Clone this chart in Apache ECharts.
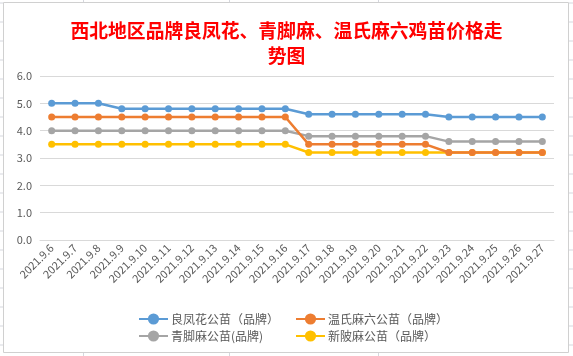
<!DOCTYPE html>
<html>
<head>
<meta charset="utf-8">
<script src="https://cdn.jsdelivr.net/npm/echarts@6/dist/echarts.min.js"></script>
<style>
html,body{margin:0;padding:0;background:#fff;}
#c{width:573px;height:356px;}
</style>
</head>
<body>
<div id="c"></div>
<script>
const categories = ['2021.9.6','2021.9.7','2021.9.8','2021.9.9','2021.9.10','2021.9.11','2021.9.12','2021.9.13','2021.9.14','2021.9.15','2021.9.16','2021.9.17','2021.9.18','2021.9.19','2021.9.20','2021.9.21','2021.9.22','2021.9.23','2021.9.24','2021.9.25','2021.9.26','2021.9.27'];
const seriesNames = ['良凤花公苗（品牌）','温氏麻六公苗（品牌）','青脚麻公苗(品牌)','新陂麻公苗（品牌）'];
const liangfenghua = [5.0,5.0,5.0,4.8,4.8,4.8,4.8,4.8,4.8,4.8,4.8,4.6,4.6,4.6,4.6,4.6,4.6,4.5,4.5,4.5,4.5,4.5];
const wenshi = [4.5,4.5,4.5,4.5,4.5,4.5,4.5,4.5,4.5,4.5,4.5,3.5,3.5,3.5,3.5,3.5,3.5,3.2,3.2,3.2,3.2,3.2];
const qingjiao = [4.0,4.0,4.0,4.0,4.0,4.0,4.0,4.0,4.0,4.0,4.0,3.8,3.8,3.8,3.8,3.8,3.8,3.6,3.6,3.6,3.6,3.6];
const xinpo = [3.5,3.5,3.5,3.5,3.5,3.5,3.5,3.5,3.5,3.5,3.5,3.2,3.2,3.2,3.2,3.2,3.2,3.2,3.2,3.2,3.2,3.2];
const yTicks = [0,1,2,3,4,5,6];
const titleText = '西北地区品牌良凤花、青脚麻、温氏麻六鸡苗价格走\n势图';

const colors = ['#5B9BD5','#ED7D31','#A5A5A5','#FFC000'];
const dataList = [liangfenghua, wenshi, qingjiao, xinpo];
const font = '"Noto Sans CJK SC", "Noto Sans", sans-serif';

// spreadsheet gridlines in the margins
const g = [];
const gridColor = '#D5D7DE';
for (let y = 3; y < 356; y += 19) {
  g.push({type:'line', shape:{x1:0,y1:y,x2:3,y2:y}, style:{stroke:gridColor,lineWidth:1}, silent:true});
  g.push({type:'line', shape:{x1:569,y1:y,x2:573,y2:y}, style:{stroke:gridColor,lineWidth:1}, silent:true});
}
[83,229,378].forEach(x => {
  g.push({type:'line', shape:{x1:x+0.5,y1:0,x2:x+0.5,y2:2}, style:{stroke:gridColor,lineWidth:1}, silent:true});
  g.push({type:'line', shape:{x1:x+0.5,y1:353,x2:x+0.5,y2:356}, style:{stroke:gridColor,lineWidth:1}, silent:true});
});
g.push({type:'rect', shape:{x:3.5,y:2.5,width:565,height:350}, style:{fill:'none',stroke:'#D0D0D0',lineWidth:1}, silent:true, z:-1});

const chart = echarts.init(document.getElementById('c'), null, {renderer:'canvas'});
chart.setOption({
  backgroundColor:'#fff',
  animation:false,
  color: colors,
  graphic: g,
  title: {
    text: titleText,
    left: 'center',
    top: 13,
    textStyle: {color:'#FF0000', fontSize:18.8, fontWeight:'bold', fontFamily:font, lineHeight:25}
  },
  legend: [
    {
      data: [seriesNames[0], seriesNames[2]],
      orient:'vertical', left:133, top:308, itemGap:5, itemWidth:29, itemHeight:14,
      textStyle:{color:'#595959', fontSize:12, fontFamily:font, padding:[0,0,0,-2]}
    },
    {
      data: [seriesNames[1], seriesNames[3]],
      orient:'vertical', left:290, top:308, itemGap:5, itemWidth:29, itemHeight:14,
      textStyle:{color:'#595959', fontSize:12, fontFamily:font, padding:[0,0,0,-2]}
    }
  ],
  grid: {left:40, right:19, top:76, bottom:116, containLabel:false},
  xAxis: {
    type:'category',
    data: categories,
    boundaryGap:true,
    axisLine:{lineStyle:{color:'#D9D9D9'}},
    axisTick:{show:false},
    axisLabel:{rotate:45, color:'#595959', fontSize:11, fontFamily:font, interval:0, margin:6}
  },
  yAxis: {
    type:'value',
    min: yTicks[0], max: yTicks[yTicks.length-1], interval:1,
    axisLine:{show:false},
    axisTick:{show:false},
    splitLine:{lineStyle:{color:'#D9D9D9'}},
    axisLabel:{color:'#595959', fontSize:11, fontFamily:font, margin:8, formatter: v => v.toFixed(1)}
  },
  series: seriesNames.map((n,i) => ({
    name:n, type:'line', data:dataList[i],
    symbol:'circle', symbolSize:7,
    lineStyle:{width:2.5, color:colors[i]},
    itemStyle:{color:colors[i]},
    z: 10 - i
  }))
});
</script>
</body>
</html>
